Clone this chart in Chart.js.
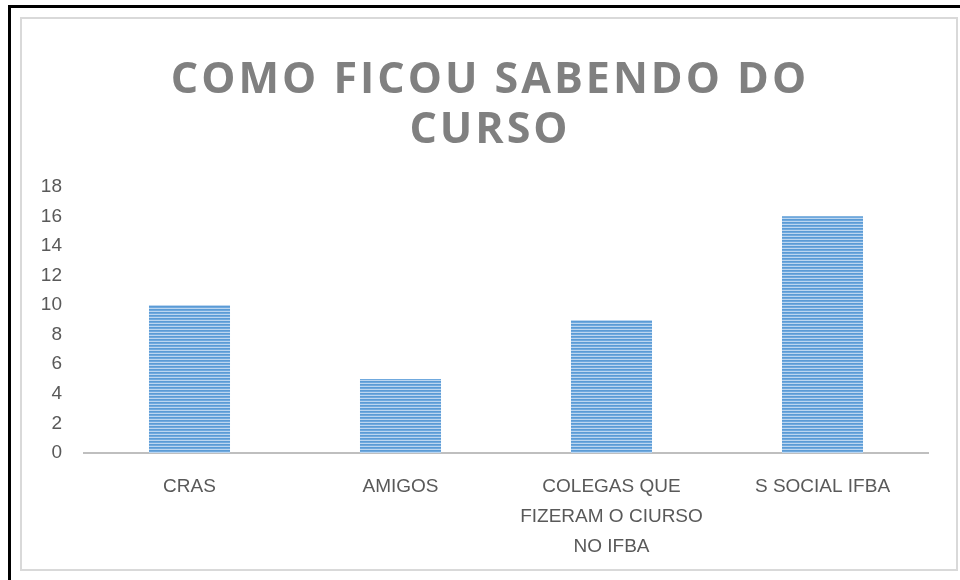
<!DOCTYPE html>
<html>
<head>
<meta charset="utf-8">
<script src="https://cdn.jsdelivr.net/npm/chart.js@4/dist/chart.umd.min.js"></script>
<style>
  html, body { margin: 0; padding: 0; background: #fff; }
  body { width: 960px; height: 580px; position: relative; overflow: hidden; }
  #outer { position: absolute; left: 8px; top: 5px; width: 1000px; height: 700px;
           border-top: 3px solid #000; border-left: 3px solid #000; }
  #inner { position: absolute; left: 20px; top: 17px; width: 934px; height: 550px;
           border: 2px solid #d9d9d9; }
  #wrap { position: absolute; left: 0; top: 0; width: 960px; height: 580px; }
</style>
</head>
<body>
<div id="outer"></div>
<div id="inner"></div>
<div id="wrap"><canvas id="c" width="960" height="580"></canvas></div>
<script>
const categories = ["CRAS", "AMIGOS", ["COLEGAS QUE", "FIZERAM O CIURSO", "NO IFBA"], "S SOCIAL IFBA"];
const values = [10, 5, 9, 16];
const titleLines = ["COMO FICOU SABENDO DO", "CURSO"];
const yMin = 0, yMax = 18, yStep = 2;

function stripePattern() {
  const p = document.createElement('canvas');
  p.width = 4; p.height = 3;
  const g = p.getContext('2d');
  const rows = ['#5b9bd5', '#70a9de', '#bcd6f0'];
  rows.forEach((col, i) => { g.fillStyle = col; g.fillRect(0, i, 4, 1); });
  return g.createPattern(p, 'repeat');
}

const letterSpacingTitle = {
  id: 'letterSpacingTitle',
  beforeDraw(chart) {
    const tb = chart.titleBlock;
    if (tb && !tb._patched) {
      const orig = tb.draw;
      tb.draw = function () {
        const ctx = this.ctx;
        ctx.save();
        ctx.translate(26, 0);
        try { ctx.letterSpacing = '3px'; } catch (e) {}
        orig.apply(this, arguments);
        ctx.restore();
      };
      tb._patched = true;
    }
  }
};

new Chart(document.getElementById('c'), {
  type: 'bar',
  data: {
    labels: categories,
    datasets: [{
      data: values,
      backgroundColor: stripePattern(),
      borderWidth: 0,
      categoryPercentage: 1,
      barPercentage: 0.384
    }]
  },
  options: {
    responsive: false,
    animation: false,
    devicePixelRatio: 1,
    layout: { padding: { left: 0, right: 32, top: 0, bottom: 0 } },
    plugins: {
      legend: { display: false },
      tooltip: { enabled: false },
      title: {
        display: true,
        text: titleLines,
        color: '#808080',
        font: { family: 'Open Sans', size: 43, weight: 'bold', lineHeight: 1.16 },
        padding: { top: 56, bottom: 31 }
      }
    },
    scales: {
      x: {
        grid: { display: false, drawTicks: false },
        border: { display: true, color: '#bfbfbf', width: 2 },
        ticks: {
          color: '#595959',
          font: { family: 'Liberation Sans', size: 19, lineHeight: 1.58 },
          padding: 19,
          maxRotation: 0,
          autoSkip: false
        },
        afterFit(scale) { scale.height = 127; }
      },
      y: {
        min: yMin, max: yMax,
        grid: { display: false, drawTicks: false },
        border: { display: false },
        ticks: {
          stepSize: yStep,
          color: '#595959',
          font: { family: 'Liberation Sans', size: 19 },
          padding: 22
        },
        afterFit(scale) { scale.width = 84; }
      }
    }
  },
  plugins: [letterSpacingTitle]
});
</script>
</body>
</html>
